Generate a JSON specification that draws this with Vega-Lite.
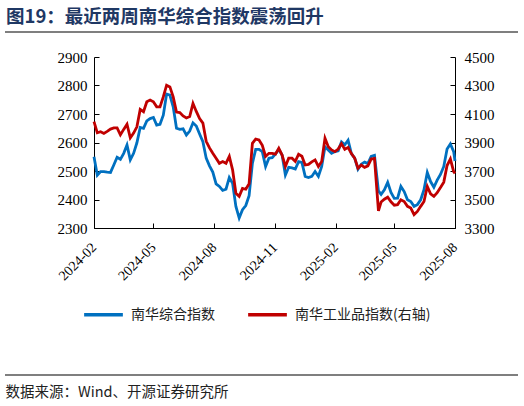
{
  "$schema": "https://vega.github.io/schema/vega-lite/v6.json",
  "autosize": {"type": "none"},
  "width": 361,
  "height": 171,
  "padding": {"left": 94, "top": 57, "right": 69, "bottom": 178},
  "background": "white",
  "config": {"view": {"stroke": null}, "font": "Liberation Serif"},
  "title": {
    "text": "图19：最近两周南华综合指数震荡回升",
    "anchor": "start",
    "frame": "group",
    "dx": -88,
    "offset": 5,
    "font": "Noto Sans CJK SC",
    "fontSize": 18.5,
    "fontWeight": "bold",
    "color": "#1F3864"
  },
  "data": {"values": [
    {"date": "2024-02-01", "nh": 2550, "gy": 4046},
    {"date": "2024-02-06", "nh": 2485, "gy": 3968},
    {"date": "2024-02-11", "nh": 2498, "gy": 3976},
    {"date": "2024-02-16", "nh": 2498, "gy": 3964},
    {"date": "2024-02-21", "nh": 2496, "gy": 3978},
    {"date": "2024-02-26", "nh": 2495, "gy": 3994},
    {"date": "2024-03-02", "nh": 2521, "gy": 4002},
    {"date": "2024-03-07", "nh": 2548, "gy": 4002},
    {"date": "2024-03-12", "nh": 2541, "gy": 3954},
    {"date": "2024-03-17", "nh": 2562, "gy": 3992},
    {"date": "2024-03-22", "nh": 2591, "gy": 4028},
    {"date": "2024-03-27", "nh": 2539, "gy": 3932},
    {"date": "2024-04-01", "nh": 2562, "gy": 3966},
    {"date": "2024-04-06", "nh": 2599, "gy": 4010},
    {"date": "2024-04-11", "nh": 2653, "gy": 4132},
    {"date": "2024-04-16", "nh": 2650, "gy": 4116},
    {"date": "2024-04-21", "nh": 2676, "gy": 4186},
    {"date": "2024-04-26", "nh": 2684, "gy": 4198},
    {"date": "2024-05-01", "nh": 2688, "gy": 4186},
    {"date": "2024-05-06", "nh": 2661, "gy": 4150},
    {"date": "2024-05-11", "nh": 2664, "gy": 4150},
    {"date": "2024-05-16", "nh": 2696, "gy": 4220},
    {"date": "2024-05-21", "nh": 2770, "gy": 4302},
    {"date": "2024-05-26", "nh": 2766, "gy": 4290},
    {"date": "2024-05-31", "nh": 2725, "gy": 4220},
    {"date": "2024-06-05", "nh": 2650, "gy": 4114},
    {"date": "2024-06-10", "nh": 2646, "gy": 4110},
    {"date": "2024-06-15", "nh": 2648, "gy": 4086},
    {"date": "2024-06-20", "nh": 2626, "gy": 4072},
    {"date": "2024-06-25", "nh": 2640, "gy": 4082},
    {"date": "2024-06-30", "nh": 2669, "gy": 4174},
    {"date": "2024-07-05", "nh": 2658, "gy": 4118},
    {"date": "2024-07-10", "nh": 2630, "gy": 4068},
    {"date": "2024-07-15", "nh": 2603, "gy": 4036},
    {"date": "2024-07-20", "nh": 2545, "gy": 3908},
    {"date": "2024-07-25", "nh": 2518, "gy": 3862},
    {"date": "2024-07-30", "nh": 2496, "gy": 3824},
    {"date": "2024-08-04", "nh": 2455, "gy": 3790},
    {"date": "2024-08-09", "nh": 2446, "gy": 3754},
    {"date": "2024-08-14", "nh": 2432, "gy": 3766},
    {"date": "2024-08-19", "nh": 2436, "gy": 3754},
    {"date": "2024-08-24", "nh": 2477, "gy": 3802},
    {"date": "2024-08-29", "nh": 2457, "gy": 3708},
    {"date": "2024-09-03", "nh": 2376, "gy": 3544},
    {"date": "2024-09-08", "nh": 2335, "gy": 3522},
    {"date": "2024-09-13", "nh": 2364, "gy": 3578},
    {"date": "2024-09-18", "nh": 2379, "gy": 3572},
    {"date": "2024-09-23", "nh": 2413, "gy": 3610},
    {"date": "2024-09-28", "nh": 2527, "gy": 3894},
    {"date": "2024-10-03", "nh": 2576, "gy": 3924},
    {"date": "2024-10-08", "nh": 2576, "gy": 3918},
    {"date": "2024-10-13", "nh": 2568, "gy": 3880},
    {"date": "2024-10-18", "nh": 2516, "gy": 3802},
    {"date": "2024-10-23", "nh": 2545, "gy": 3824},
    {"date": "2024-10-28", "nh": 2547, "gy": 3824},
    {"date": "2024-11-02", "nh": 2560, "gy": 3818},
    {"date": "2024-11-07", "nh": 2576, "gy": 3860},
    {"date": "2024-11-12", "nh": 2556, "gy": 3812},
    {"date": "2024-11-17", "nh": 2486, "gy": 3732},
    {"date": "2024-11-22", "nh": 2513, "gy": 3790},
    {"date": "2024-11-27", "nh": 2511, "gy": 3790},
    {"date": "2024-12-02", "nh": 2507, "gy": 3768},
    {"date": "2024-12-07", "nh": 2533, "gy": 3818},
    {"date": "2024-12-12", "nh": 2530, "gy": 3804},
    {"date": "2024-12-17", "nh": 2481, "gy": 3742},
    {"date": "2024-12-22", "nh": 2477, "gy": 3746},
    {"date": "2024-12-27", "nh": 2481, "gy": 3764},
    {"date": "2025-01-01", "nh": 2498, "gy": 3778},
    {"date": "2025-01-06", "nh": 2481, "gy": 3732},
    {"date": "2025-01-11", "nh": 2516, "gy": 3766},
    {"date": "2025-01-16", "nh": 2585, "gy": 3930},
    {"date": "2025-01-21", "nh": 2574, "gy": 3870},
    {"date": "2025-01-26", "nh": 2562, "gy": 3848},
    {"date": "2025-01-31", "nh": 2568, "gy": 3836},
    {"date": "2025-02-05", "nh": 2571, "gy": 3854},
    {"date": "2025-02-10", "nh": 2602, "gy": 3892},
    {"date": "2025-02-15", "nh": 2592, "gy": 3852},
    {"date": "2025-02-20", "nh": 2608, "gy": 3866},
    {"date": "2025-02-25", "nh": 2561, "gy": 3822},
    {"date": "2025-03-02", "nh": 2545, "gy": 3790},
    {"date": "2025-03-07", "nh": 2506, "gy": 3720},
    {"date": "2025-03-12", "nh": 2524, "gy": 3742},
    {"date": "2025-03-17", "nh": 2531, "gy": 3726},
    {"date": "2025-03-22", "nh": 2526, "gy": 3736},
    {"date": "2025-03-27", "nh": 2551, "gy": 3784},
    {"date": "2025-04-01", "nh": 2555, "gy": 3788},
    {"date": "2025-04-07", "nh": 2430, "gy": 3420},
    {"date": "2025-04-11", "nh": 2418, "gy": 3482},
    {"date": "2025-04-16", "nh": 2434, "gy": 3502},
    {"date": "2025-04-21", "nh": 2460, "gy": 3516},
    {"date": "2025-04-26", "nh": 2425, "gy": 3484},
    {"date": "2025-05-01", "nh": 2404, "gy": 3460},
    {"date": "2025-05-06", "nh": 2405, "gy": 3464},
    {"date": "2025-05-11", "nh": 2446, "gy": 3498},
    {"date": "2025-05-16", "nh": 2428, "gy": 3486},
    {"date": "2025-05-21", "nh": 2399, "gy": 3452},
    {"date": "2025-05-26", "nh": 2393, "gy": 3440},
    {"date": "2025-05-31", "nh": 2376, "gy": 3394},
    {"date": "2025-06-05", "nh": 2382, "gy": 3416},
    {"date": "2025-06-10", "nh": 2399, "gy": 3452},
    {"date": "2025-06-15", "nh": 2434, "gy": 3486},
    {"date": "2025-06-20", "nh": 2495, "gy": 3592},
    {"date": "2025-06-25", "nh": 2463, "gy": 3540},
    {"date": "2025-06-30", "nh": 2443, "gy": 3522},
    {"date": "2025-07-05", "nh": 2468, "gy": 3548},
    {"date": "2025-07-10", "nh": 2488, "gy": 3584},
    {"date": "2025-07-15", "nh": 2516, "gy": 3622},
    {"date": "2025-07-20", "nh": 2577, "gy": 3738},
    {"date": "2025-07-25", "nh": 2595, "gy": 3784},
    {"date": "2025-07-30", "nh": 2568, "gy": 3696},
    {"date": "2025-08-01", "nh": 2535, "gy": 3684}
  ]},
  "encoding": {
    "x": {
      "field": "date",
      "type": "temporal",
      "scale": {
        "type": "utc",
        "domain": [
          {"year": 2024, "month": 2, "date": 1, "utc": true},
          {"year": 2025, "month": 8, "date": 1, "utc": true}
        ]
      },
      "axis": {
        "values": [
          {"year": 2024, "month": 2, "date": 1, "utc": true},
          {"year": 2024, "month": 5, "date": 1, "utc": true},
          {"year": 2024, "month": 8, "date": 1, "utc": true},
          {"year": 2024, "month": 11, "date": 1, "utc": true},
          {"year": 2025, "month": 2, "date": 1, "utc": true},
          {"year": 2025, "month": 5, "date": 1, "utc": true},
          {"year": 2025, "month": 8, "date": 1, "utc": true}
        ],
        "format": "%Y-%m",
        "labelAngle": -45,
        "labelAlign": "right",
        "labelBaseline": "middle",
        "labelFont": "Liberation Serif",
        "labelFontSize": 14,
        "labelColor": "#000",
        "labelPadding": 22,
        "labelFlush": false,
        "labelOverlap": false,
        "tickSize": -5,
        "tickColor": "#000",
        "domainColor": "#000",
        "grid": false,
        "title": "数据来源：Wind、开源证券研究所",
        "titleX": -89,
        "titleY": 164,
        "titleAlign": "left",
        "titleBaseline": "middle",
        "titleAngle": 0,
        "titleFont": "Noto Sans CJK SC",
        "titleFontSize": 14.5,
        "titleFontWeight": "normal",
        "titleColor": "#222"
      }
    }
  },
  "layer": [
    {
      "mark": {"type": "line", "strokeWidth": 2.8},
      "encoding": {
        "y": {
          "field": "nh",
          "type": "quantitative",
          "scale": {"domain": [2300, 2900], "nice": false, "zero": false},
          "axis": {
            "orient": "left",
            "values": [2300, 2400, 2500, 2600, 2700, 2800, 2900],
            "format": "d",
            "title": null,
            "grid": false,
            "tickSize": -5,
            "tickColor": "#000",
            "domainColor": "#000",
            "labelFont": "Liberation Serif",
            "labelFontSize": 15,
            "labelColor": "#000",
            "labelPadding": 12
          }
        },
        "color": {
          "datum": "南华综合指数",
          "type": "nominal",
          "scale": {
            "domain": ["南华综合指数", "南华工业品指数(右轴)"],
            "range": ["#0070C0", "#C00000"]
          },
          "legend": {
            "orient": "none",
            "legendX": -12,
            "legendY": 236,
            "direction": "horizontal",
            "title": null,
            "symbolType": "stroke",
            "symbolSize": 1500,
            "symbolStrokeWidth": 3.5,
            "labelFont": "Noto Sans CJK SC",
            "labelFontSize": 14,
            "labelColor": "#222",
            "labelOffset": 6,
            "columnPadding": 26
          }
        }
      }
    },
    {
      "mark": {"type": "line", "strokeWidth": 2.8},
      "encoding": {
        "y": {
          "field": "gy",
          "type": "quantitative",
          "scale": {"domain": [3300, 4500], "nice": false, "zero": false},
          "axis": {
            "orient": "right",
            "values": [3300, 3500, 3700, 3900, 4100, 4300, 4500],
            "format": "d",
            "title": null,
            "grid": false,
            "tickSize": -5,
            "tickColor": "#000",
            "domainColor": "#000",
            "labelFont": "Liberation Serif",
            "labelFontSize": 15,
            "labelColor": "#000",
            "labelPadding": 14
          }
        },
        "color": {"datum": "南华工业品指数(右轴)", "type": "nominal"}
      }
    },
    {
      "data": {"values": [{}]},
      "mark": {"type": "rule", "color": "#7f7f7f", "strokeWidth": 2},
      "encoding": {"x": {"value": -89}, "x2": {"value": 424}, "y": {"value": -25}}
    },
    {
      "data": {"values": [{}]},
      "mark": {"type": "rule", "color": "#7f7f7f", "strokeWidth": 2},
      "encoding": {"x": {"value": -89}, "x2": {"value": 424}, "y": {"value": 318}}
    }
  ],
  "resolve": {"scale": {"y": "independent"}}
}
